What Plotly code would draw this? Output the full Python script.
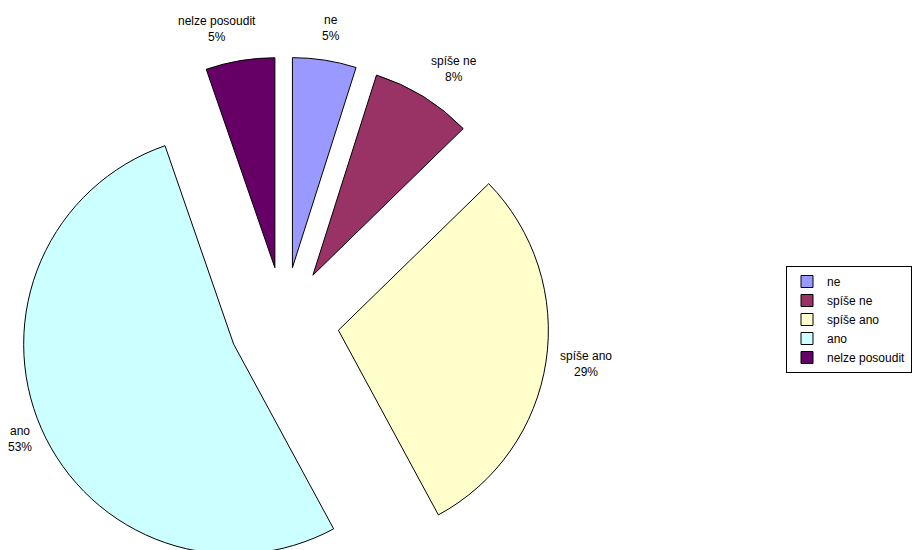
import numpy as np
import plotly.graph_objects as go

# answer categories and their shares (percent)
labels = ["ne", "spíše ne", "spíše ano", "ano", "nelze posoudit"]
values = [4.9, 7.8, 29.4, 52.6, 5.3]
colors = ["#9999FF", "#993366", "#FFFFCC", "#CCFFFF", "#660066"]

W, H = 904, 579
top = 49          # top margin, px
pull = 0.262
dom_x = [11 / W, 541 / W]

fig = go.Figure(go.Pie(
    labels=labels,
    values=values,
    sort=False,
    direction="clockwise",
    rotation=0,
    pull=pull,
    marker=dict(colors=colors, line=dict(color="black", width=1)),
    textposition="none",
    domain=dict(x=dom_x, y=[0, 1]),
    hoverinfo="label+percent",
))

# data labels outside the exploded slices (same geometry plotly uses)
ph = H - top
r = min(W * (dom_x[1] - dom_x[0]), ph) / (2 + 2 * pull)
cx = W * (dom_x[0] + dom_x[1]) / 2
cy = top + ph / 2
frac = np.array(values) / sum(values)
mid = (np.cumsum(frac) - frac / 2) * 2 * np.pi
for lab, f, a in zip(labels, frac, mid):
    s, c = np.sin(a), np.cos(a)
    hw = 6.1 * max(len(lab), 3) / 2
    hh = 17.5
    g = 13
    R = r * (1 + pull)
    px = cx + R * s + np.sign(s) * hw * min(1, 3.0 * abs(s)) + g * s
    py = cy - R * c - hh * c - g * c - 2
    fig.add_annotation(
        x=px / W, y=1 - (py - top) / ph, xref="paper", yref="paper",
        text=f"{lab}<br>{round(f * 100):.0f}%", showarrow=False,
        xanchor="center", yanchor="middle", align="center",
        font=dict(family="Liberation Sans, Arial", size=12, color="black"),
    )

fig.update_layout(
    width=W,
    height=H,
    margin=dict(l=0, r=0, t=top, b=0),
    paper_bgcolor="white",
    plot_bgcolor="white",
    font=dict(family="Liberation Sans, Arial", size=12, color="black"),
    legend=dict(
        x=1, y=1 - (258 - top) / ph, xanchor="right", yanchor="top",
        bordercolor="black", borderwidth=1, bgcolor="white",
        font=dict(size=12),
    ),
)

fig.write_html("out.html")
